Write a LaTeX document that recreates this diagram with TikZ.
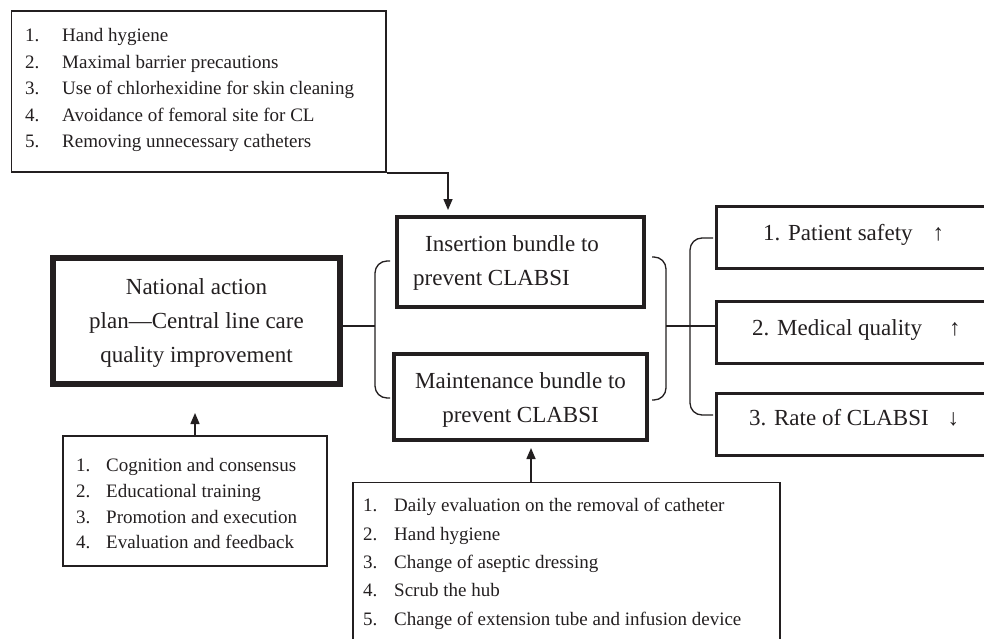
\documentclass[tikz,border=0pt]{standalone}
\usepackage{fontspec}
\setmainfont{Liberation Serif}
\usetikzlibrary{arrows.meta,fit}
\definecolor{ink}{HTML}{231F20}
\tikzset{
  frame/.style={draw=ink, inner sep=0pt, rectangle},
  thinframe/.style={frame, line width=1.8pt},
  bundleframe/.style={frame, line width=4.5pt},
  natframe/.style={frame, line width=6pt},
  outframe/.style={frame, line width=3pt},
  conn/.style={draw=ink, line width=1.5pt},
  arr/.style={conn, -{Triangle[length=11pt,width=9pt]}},
  bracket/.style={draw=ink, line width=1.3pt, rounded corners=12pt},
  lst/.style={anchor=base west, inner sep=0pt, text=ink, font=\fontsize{19}{19}\selectfont},
  big/.style={anchor=base west, inner sep=0pt, text=ink, font=\fontsize{23}{23}\selectfont},
  bigc/.style={anchor=base, inner sep=0pt, text=ink, font=\fontsize{23}{23}\selectfont},
}
\begin{document}
\begin{tikzpicture}[x=1pt,y=-1pt]
\useasboundingbox (0,0) rectangle (984,639);
\clip (0,0) rectangle (984,639);
\fill[white] (0,0) rectangle (984,639);

% frames
\node[thinframe, fit={(11.5,11) (386,172)}] (toplist) {};
\node[bundleframe, fit={(397.2,217.2) (643.8,306.8)}] (ins) {};
\node[bundleframe, fit={(394.2,354.2) (646.8,439.8)}] (mnt) {};
\node[natframe, fit={(53,258) (340,384)}] (nat) {};
\node[outframe, fit={(716.5,206.5) (1010,268.5)}] (r1) {};
\node[outframe, fit={(716.5,301.5) (1010,363.5)}] (r2) {};
\node[outframe, fit={(716.5,393.5) (1010,455.5)}] (r3) {};
\node[thinframe, fit={(63,436) (327,566)}] (blist) {};
\node[thinframe, fit={(353,482.5) (780,700)}] (mlist) {};

% list texts
\foreach \n/\yy/\txt in {1/42/Hand hygiene, 2/68.5/Maximal barrier precautions, 3/95/Use of chlorhexidine for skin cleaning, 4/121.5/Avoidance of femoral site for CL, 5/148/Removing unnecessary catheters}{
  \node[lst] (tn\n) at (25,\yy) {\n.};
  \node[lst] (tt\n) at (62,\yy) {\txt};
}
\foreach \n/\yy/\txt in {1/471.7/Cognition and consensus, 2/497.5/Educational training, 3/523/Promotion and execution, 4/548.5/Evaluation and feedback}{
  \node[lst] (bn\n) at (76,\yy) {\n.};
  \node[lst] (bt\n) at (106,\yy) {\txt};
}
\foreach \n/\yy/\txt in {1/511.7/Daily evaluation on the removal of catheter, 2/540/Hand hygiene, 3/568.3/Change of aseptic dressing, 4/596.7/Scrub the hub, 5/625/Change of extension tube and infusion device}{
  \node[lst] (mn\n) at (363,\yy) {\n.};
  \node[lst] (mt\n) at (394,\yy) {\txt};
}

% box texts
\node[bigc] (nat1) at (196.5,294) {National action};
\node[bigc] (nat2) at (196.5,328) {plan—Central line care};
\node[bigc] (nat3) at (196.5,362) {quality improvement};
\node[big] (ins1) at (425,251) {Insertion bundle to};
\node[big] (ins2) at (413,285) {prevent CLABSI};
\node[bigc] (mnt1) at (520.5,388) {Maintenance bundle to};
\node[bigc] (mnt2) at (520.5,422) {prevent CLABSI};
\node[big] (r1t) at (763,240) {1. Patient safety\hspace{20pt}↑};
\node[big] (r2t) at (752,335) {2. Medical quality\hspace{27pt}↑};
\node[big] (r3t) at (749,425) {3. Rate of CLABSI\hspace{19pt}↓};

% arrows
\coordinate (insarrow) at (448,210);
\draw[arr] (toplist.south east) -| (insarrow);
\coordinate (natarrow) at (195,413);
\draw[arr] (blist.north) -- (natarrow);
\coordinate (mntarrow) at (531,448);
\draw[arr] (mntarrow |- mlist.north) -- (mntarrow);

% brackets
\coordinate (lmid) at (375,326);
\coordinate (rmid) at (666,326);
\draw[bracket] (390,261) -- (375,261) -- (375,398) -- (390,398);
\draw[bracket] (652,257) -- (666,257) -- (666,400) -- (652,400);
\draw[bracket] (713,238) -- (690,238) -- (690,415) -- (713,415);
\draw[conn, line width=1.3pt] (nat.east |- lmid) -- (lmid);
\draw[conn, line width=1.3pt] (rmid) -- (r2.west |- rmid);
\end{tikzpicture}
\end{document}
